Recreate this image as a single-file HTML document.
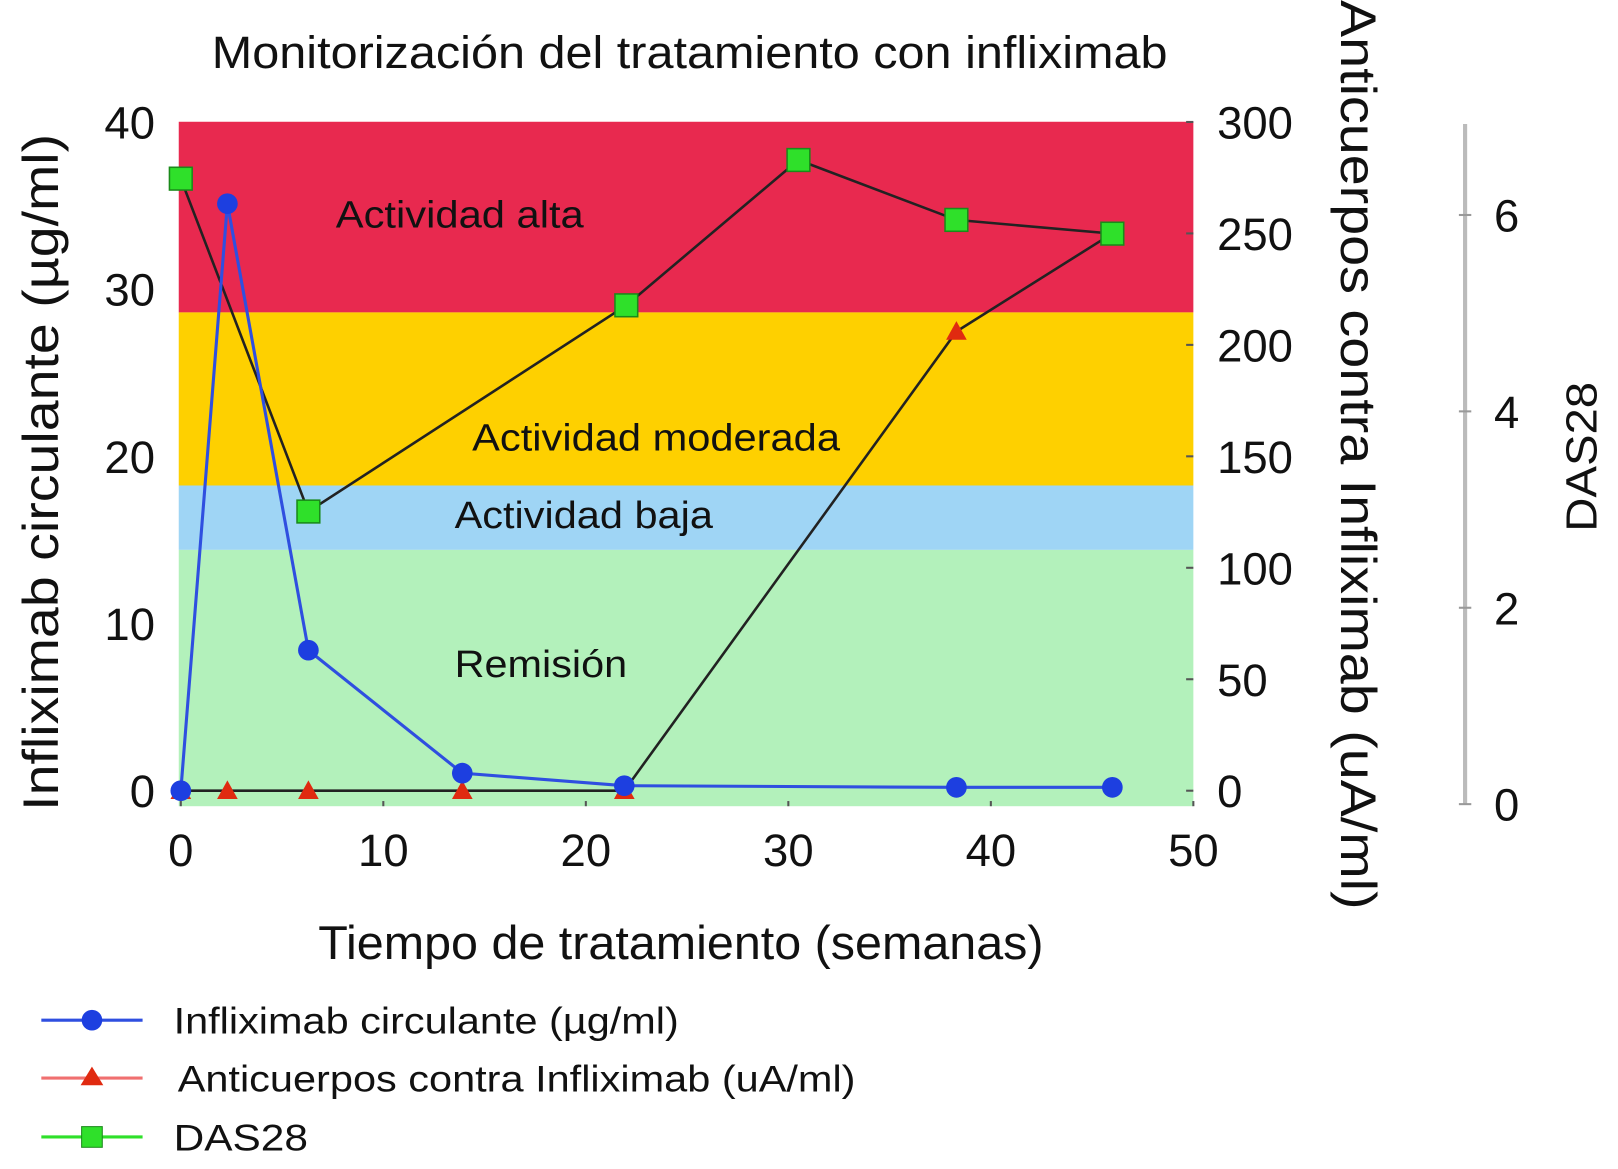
<!DOCTYPE html>
<html><head><meta charset="utf-8"><style>
html,body{margin:0;padding:0;background:#fff;}
svg{display:block;font-family:"Liberation Sans",sans-serif;}
</style></head><body>
<svg id="chart" width="1618" height="1169" viewBox="0 0 1566 1131" preserveAspectRatio="none"></svg>
<script>
const weeks = [0, 2.3, 6.3, 13.9, 21.9, 38.3, 46];
const inflix = [0, 35.1, 8.4, 1.05, 0.3, 0.2, 0.2];
const antiWeeks = [0, 2.3, 6.3, 13.9, 21.9, 38.3, 46];
const anti = [0, 0, 0, 0, 0, 206, 250];
const dasWeeks = [0, 6.3, 22, 30.5, 38.3, 46];
const das = [6.37, 2.98, 5.08, 6.56, 5.95, 5.81];
const xTicks = [0, 10, 20, 30, 40, 50];
const leftTicks = [0, 10, 20, 30, 40];
const rightTicks = [0, 50, 100, 150, 200, 250, 300];
const dasTicks = [0, 2, 4, 6];
const bands = [
  {name:'Actividad alta', lo:28.6, hi:40, color:'#e8294f', lx:325, ly:220, len:240},
  {name:'Actividad moderada', lo:18.25, hi:28.6, color:'#fed000', lx:457, ly:436, len:356},
  {name:'Actividad baja', lo:14.4, hi:18.25, color:'#9fd5f5', lx:440, ly:511, len:250},
  {name:'Remisión', lo:-1, hi:14.4, color:'#b3f1bb', lx:440, ly:655, len:167}
];
const NS='http://www.w3.org/2000/svg';
const svg=document.getElementById('chart');
const xS=v=>175+v*19.6;
const yL=v=>765-v*16.18;
const yR=v=>765-v*647/300;
const yD=v=>778-v*95;
function el(tag,attrs,parent){const e=document.createElementNS(NS,tag);for(const k in attrs)e.setAttribute(k,attrs[k]);(parent||svg).appendChild(e);return e;}
function txt(s,attrs){const t=el('text',attrs);t.textContent=s;return t;}

bands.forEach(b=>{
  const top=yL(b.hi), bot=Math.min(yL(b.lo),780);
  const r=el('rect',{x:173,y:top,width:982,height:bot-top,fill:b.color});
  
  
});
bands.forEach(b=>{
  const t=txt(b.name,{x:b.lx,y:b.ly,'font-size':37,fill:'#111',textLength:b.len,lengthAdjust:'spacingAndGlyphs'});
  
  
});
const title=txt('Monitorización del tratamiento con infliximab',{x:205,y:66,'font-size':44,fill:'#111',textLength:925,lengthAdjust:'spacingAndGlyphs'});



xTicks.forEach(v=>{
  const t=txt(v,{x:xS(v),y:838,'font-size':44,'text-anchor':'middle',fill:'#111'});
  
  
  el('line',{x1:xS(v),x2:xS(v),y1:775,y2:780,stroke:'#555','stroke-width':2});
});
leftTicks.forEach(v=>{
  const t=txt(v,{x:150,y:yL(v)+16,'font-size':44,'text-anchor':'end',fill:'#111'});
  
  
});
rightTicks.forEach(v=>{
  const t=txt(v,{x:1178,y:yR(v)+16,'font-size':44,fill:'#111'});
  
  
  el('line',{x1:1148,x2:1155,y1:yR(v),y2:yR(v),stroke:'#555','stroke-width':2});
});
const dl=el('line',{x1:1418,x2:1418,y1:120,y2:778,stroke:'#bbb','stroke-width':4});


dasTicks.forEach(v=>{
  el('line',{x1:1412,x2:1424,y1:yD(v),y2:yD(v),stroke:'#999','stroke-width':2});
  const t=txt(v,{x:1446,y:yD(v)+16,'font-size':44,fill:'#111'});
  
  
});
let t=txt('Infliximab circulante (µg/ml)',{x:0,y:0,'font-size':48,'text-anchor':'middle',fill:'#111',textLength:655,lengthAdjust:'spacingAndGlyphs',transform:'translate(56,457) rotate(-90)'});


t=txt('Anticuerpos contra Infliximab (uA/ml)',{x:0,y:0,'font-size':48,'text-anchor':'middle',fill:'#111',textLength:880,lengthAdjust:'spacingAndGlyphs',transform:'translate(1298,440) rotate(90)'});


t=txt('DAS28',{x:0,y:0,'font-size':42,'text-anchor':'middle',fill:'#111',textLength:145,lengthAdjust:'spacingAndGlyphs',transform:'translate(1545,442) rotate(-90)'});


t=txt('Tiempo de tratamiento (semanas)',{x:308,y:928,'font-size':46,fill:'#111',textLength:702,lengthAdjust:'spacingAndGlyphs'});



const pts=(xs,ys,f)=>xs.map((x,i)=>xS(x)+','+f(ys[i])).join(' ');
let p=el('polyline',{points:pts(antiWeeks,anti,yR),fill:'none',stroke:'#222','stroke-width':2.5});


p=el('polyline',{points:pts(dasWeeks,das,yD),fill:'none',stroke:'#222','stroke-width':2.5});


p=el('polyline',{points:pts(weeks,inflix,yL),fill:'none',stroke:'#2f4fe0','stroke-width':3});


antiWeeks.forEach((w,i)=>{
  const x=xS(w),y=yR(anti[i]);
  const m=el('polygon',{points:`${x},${y-10} ${x-10},${y+8} ${x+10},${y+8}`,fill:'#e02a10'});
  
  
});
weeks.forEach((w,i)=>{
  const m=el('circle',{cx:xS(w),cy:yL(inflix[i]),r:10,fill:'#1d3fe0'});
  
  
});
dasWeeks.forEach((w,i)=>{
  const m=el('rect',{x:xS(w)-11,y:yD(das[i])-11,width:22,height:22,fill:'#2fe02a',stroke:'#1a8a1a','stroke-width':1.5});
  
  
});

const leg=[
  {label:'Infliximab circulante (µg/ml)',color:'#2f4fe0',y:987,shape:'c',tx:168,len:489},
  {label:'Anticuerpos contra Infliximab (uA/ml)',color:'#f07070',y:1043,shape:'t',tx:172,len:656},
  {label:'DAS28',color:'#2fe02a',y:1100,shape:'s',tx:168,len:130}
];
leg.forEach(l=>{
  const g=el('g',{});
  
  
  el('line',{x1:40,x2:138,y1:l.y,y2:l.y,stroke:l.color,'stroke-width':3},g);
  if(l.shape==='c')el('circle',{cx:89,cy:l.y,r:10,fill:'#1d3fe0'},g);
  if(l.shape==='t')el('polygon',{points:`89,${l.y-11} 78,${l.y+7} 100,${l.y+7}`,fill:'#e02a10'},g);
  if(l.shape==='s')el('rect',{x:79,y:l.y-10,width:20,height:20,fill:'#2fe02a',stroke:'#1a8a1a'},g);
  const tt=el('text',{x:l.tx,y:l.y+13,'font-size':36,fill:'#111',textLength:l.len,lengthAdjust:'spacingAndGlyphs'},g);
  tt.textContent=l.label;
});
</script>
</body></html>
